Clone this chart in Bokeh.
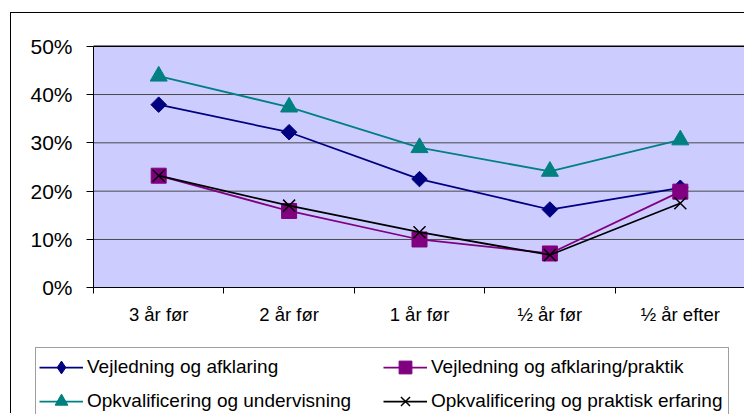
import math
from bokeh.plotting import figure
from bokeh.models import (Range1d, FixedTicker, NumeralTickFormatter, Legend,
                          LegendItem, BoxAnnotation)
from bokeh.embed import file_html
from bokeh.resources import INLINE

# ---- data ----
categories = ["3 år før", "2 år før", "1 år før", "½ år før", "½ år efter"]
vejledning = [0.379, 0.322, 0.225, 0.162, 0.207]
vejledning_praktik = [0.232, 0.159, 0.100, 0.071, 0.199]
opkval_undervisning = [0.438, 0.374, 0.290, 0.241, 0.306]
opkval_praktisk = [0.232, 0.170, 0.115, 0.068, 0.175]
y_ticks = [0.0, 0.1, 0.2, 0.3, 0.4, 0.5]
series_names = ["Vejledning og afklaring", "Vejledning og afklaring/praktik",
                "Opkvalificering og undervisning", "Opkvalificering og praktisk erfaring"]

n_cat = len(categories)
xs = [i + 0.5 for i in range(n_cat)]
bounds = [float(i) for i in range(n_cat + 1)]
y_lo, y_hi = y_ticks[0], y_ticks[-1]

# ---- layout (pixels inside the canvas) ----
W, H = 734, 401
PA_LEFT, PA_RIGHT = 82.0, 734.0       # plot-area left / right edge
PA_TOP, PA_BOTTOM = 32.7, 274.3       # plot-area top / bottom edge
ux = n_cat / (PA_RIGHT - PA_LEFT)
uy = (y_hi - y_lo) / (PA_BOTTOM - PA_TOP)
x_range = Range1d(0 - PA_LEFT * ux, n_cat + (W - PA_RIGHT) * ux)
y_range = Range1d(y_lo - (H - PA_BOTTOM) * uy, y_hi + PA_TOP * uy)

FONT = "Liberation Sans"

p = figure(width=W, height=H, x_range=x_range, y_range=y_range,
           output_backend="svg", toolbar_location=None,
           min_border_left=0, min_border_right=0,
           min_border_top=0, min_border_bottom=0)
# outer chart border (the chart continues past the picture's right/bottom edge)
p.styles = {"margin-left": "10px", "margin-top": "12px",
            "border-left": "1px solid black", "border-top": "1px solid black"}
p.background_fill_color = "white"
p.border_fill_color = "white"
p.outline_line_color = None
p.xgrid.grid_line_color = None
p.ygrid.grid_line_color = None

# plot area
p.add_layout(BoxAnnotation(left=0, right=n_cat, bottom=y_lo, top=y_hi,
                           fill_color="#CCCCFF", fill_alpha=1.0, line_color=None,
                           level="underlay"))
# horizontal gridlines across the plot area
p.segment(x0=[0] * (len(y_ticks) - 2), x1=[n_cat] * (len(y_ticks) - 2),
          y0=y_ticks[1:-1], y1=y_ticks[1:-1], line_color="#4a4a4a", line_width=1)
p.segment(x0=[0], x1=[n_cat], y0=[y_hi], y1=[y_hi], line_color="black", line_width=1.5)

# y axis
p.yaxis.fixed_location = 0
p.yaxis.bounds = (y_lo, y_hi)
p.yaxis.ticker = FixedTicker(ticks=y_ticks)
p.yaxis.formatter = NumeralTickFormatter(format="0%")
p.yaxis.major_label_text_font = FONT
p.yaxis.major_label_text_font_size = "21px"
p.yaxis.major_label_text_color = "black"
p.yaxis.major_tick_out = 7
p.yaxis.major_tick_in = 0
p.yaxis.major_tick_line_color = "black"
p.yaxis.minor_tick_line_color = None
p.yaxis.axis_line_color = "black"
p.yaxis.major_label_standoff = 14

# x axis: labels at category centres, ticks at category boundaries
p.xaxis.fixed_location = 0
p.xaxis.bounds = (0, n_cat)
p.xaxis.ticker = FixedTicker(ticks=xs, minor_ticks=bounds)
p.xaxis.major_label_overrides = {x: c for x, c in zip(xs, categories)}
p.xaxis.major_label_text_font = FONT
p.xaxis.major_label_text_font_size = "18.5px"
p.xaxis.major_label_text_color = "black"
p.xaxis.major_tick_line_color = None
p.xaxis.major_tick_out = 6
p.xaxis.major_tick_in = 0
p.xaxis.minor_tick_out = 6
p.xaxis.minor_tick_in = 0
p.xaxis.minor_tick_line_color = "black"
p.xaxis.axis_line_color = "black"
p.xaxis.major_label_standoff = 10

# series
LW = 1.75
r1l = p.line(xs, vejledning, line_color="#000080", line_width=LW)
r1m = p.scatter(xs, vejledning, marker="square", angle=math.pi / 4, size=11,
                fill_color="#000080", line_color="#000080")
r1g = p.scatter(xs, vejledning, marker="diamond", size=14, visible=False,
                fill_color="#000080", line_color="#000080")
r2l = p.line(xs, vejledning_praktik, line_color="#800080", line_width=LW)
r2m = p.scatter(xs, vejledning_praktik, marker="square", size=15,
                fill_color="#800080", line_color="#800080")
r3l = p.line(xs, opkval_undervisning, line_color="#008080", line_width=LW)
r3m = p.scatter(xs, opkval_undervisning, marker="triangle", size=17,
                fill_color="#008080", line_color="#008080")
r4l = p.line(xs, opkval_praktisk, line_color="black", line_width=LW)
r4m = p.scatter(xs, opkval_praktisk, marker="x", size=17,
                line_color="black", line_width=1.5)

items = [LegendItem(label=series_names[0], renderers=[r1l, r1g]),
         LegendItem(label=series_names[1], renderers=[r2l, r2m]),
         LegendItem(label=series_names[2], renderers=[r3l, r3m]),
         LegendItem(label=series_names[3], renderers=[r4l, r4m])]
legend = Legend(items=items, location=(24, -7), orientation="horizontal", ncols=2,
                label_text_font=FONT, label_text_font_size="19px",
                label_text_color="black",
                glyph_width=44, glyph_height=32, label_height=32, label_width=294,
                label_standoff=4, spacing=2, padding=3, margin=0,
                border_line_color="#404040", border_line_width=1,
                background_fill_color="white", background_fill_alpha=1.0,
                inactive_fill_alpha=0.0)
p.add_layout(legend, "center")

open("out.html", "w").write(file_html(p, INLINE))
